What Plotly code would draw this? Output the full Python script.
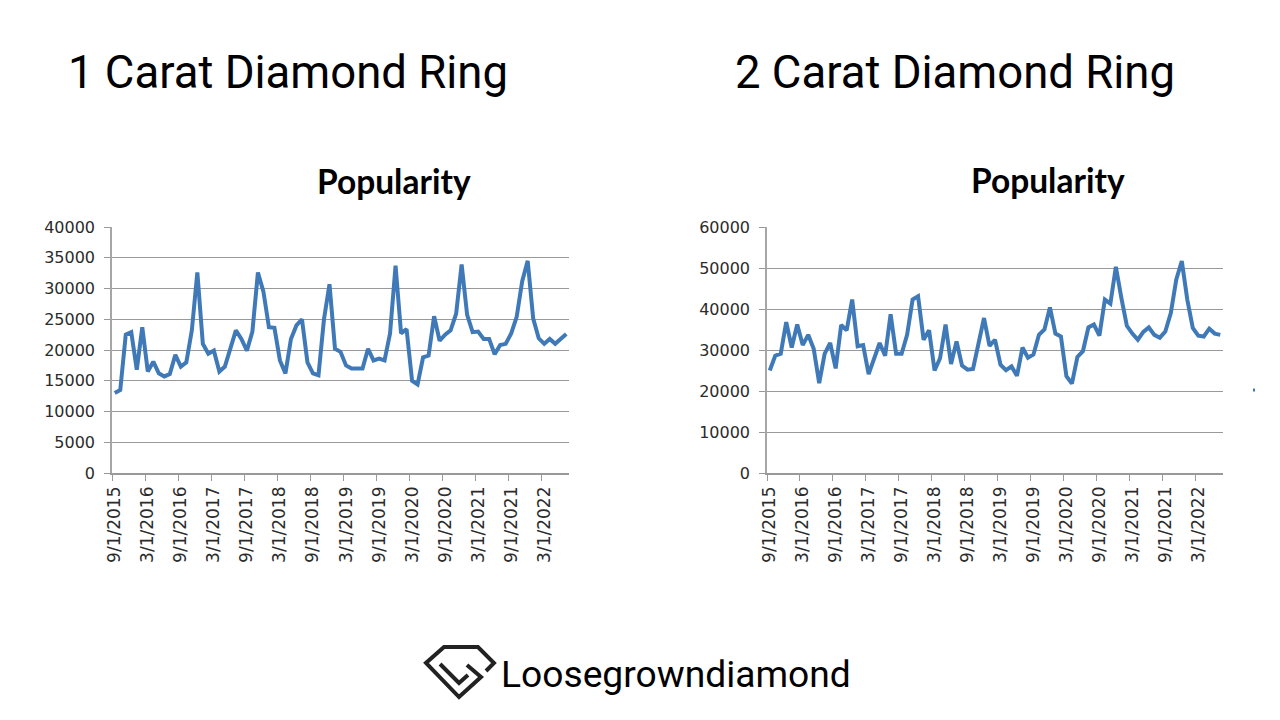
import pandas as pd
import plotly.graph_objects as go

months = [f"{d.month}/1/{d.year}" for d in pd.date_range("2015-09-01", periods=83, freq="MS")]

ring_1ct = [
    13000, 13500, 22500, 22900, 16800, 23700, 16500, 18100, 16200, 15700,
    16100, 19200, 17300, 18000, 23200, 32600, 21000, 19400, 19900, 16500,
    17300, 20000, 23200, 21800, 19900, 23000, 32600, 29500, 23700, 23600,
    18300, 16200, 21800, 24000, 25000, 18000, 16200, 15900, 25000, 30700,
    20200, 19700, 17500, 17000, 17000, 17000, 20200, 18300, 18600, 18300,
    22700, 33700, 22700, 23400, 15000, 14400, 18800, 19100, 25500, 21500,
    22500, 23200, 25900, 33900, 25700, 22900, 23000, 21800, 21800, 19300,
    20800, 21000, 22700, 25400, 31200, 34500, 25100, 21900, 21000, 21800,
    21000, 21700, 22600,
]
ring_2ct = [
    25000, 28600, 29100, 36800, 30600, 36200, 31200, 33700, 30300, 21900,
    29100, 31700, 25500, 36100, 34800, 42300, 30900, 31200, 24100, 28000,
    31700, 28600, 38700, 29100, 29100, 33700, 42300, 43100, 32500, 34800,
    25000, 28000, 36200, 26600, 32100, 26200, 25200, 25400, 31300, 37800,
    31000, 32500, 26400, 25100, 26000, 23700, 30600, 28100, 28900, 33700,
    35000, 40400, 34000, 33300, 23600, 21800, 28300, 29700, 35500, 36200,
    33500, 42300, 41300, 50300, 42700, 35900, 34000, 32500, 34400, 35500,
    33700, 33000, 34500, 39000, 47200, 51700, 42300, 35400, 33500, 33300,
    35200, 34000, 33700,
]

W, H = 1280, 720
LINE = "#4079b8"
GRID = "#999999"


def px(x):
    return x / W


def py(y):
    return 1 - y / H


def poly(points, color="#222222", width=4):
    path = "M " + " L ".join(f"{px(x):.4f},{py(y):.4f}" for x, y in points)
    return dict(type="path", xref="paper", yref="paper", path=path,
                line=dict(color=color, width=width))


fig = go.Figure()
fig.add_trace(go.Scatter(x=months, y=ring_1ct, mode="lines", xaxis="x", yaxis="y",
                         line=dict(color=LINE, width=4)))
fig.add_trace(go.Scatter(x=months, y=ring_2ct, mode="lines", xaxis="x2", yaxis="y2",
                         line=dict(color=LINE, width=4)))

x_common = dict(type="category", categoryorder="array", categoryarray=months,
                range=[-0.5, len(months) - 0.5],
                tickmode="linear", tick0=0, dtick=6, tickson="boundaries",
                ticks="outside", ticklen=6, tickcolor=GRID, tickwidth=1,
                tickangle=-90, showgrid=False, ticklabelstandoff=5,
                tickfont=dict(family="DejaVu Sans", size=17, color="#2b2b2b"),
                showline=True, linecolor=GRID, linewidth=1.5, zeroline=False)
y_common = dict(ticks="outside", ticklen=6, tickcolor=GRID, tickwidth=1,
                tickfont=dict(family="DejaVu Sans", size=16, color="#2b2b2b"),
                gridcolor=GRID, gridwidth=1, ticklabelstandoff=6,
                showline=True, linecolor="#a6a6a6", linewidth=1.5,
                zeroline=False, tickformat="d")

titles = [
    dict(text="1 Carat Diamond Ring", x=px(66), y=py(73), size=45.5, family="Roboto", weight=400),
    dict(text="2 Carat Diamond Ring", x=px(733), y=py(73), size=45.5, family="Roboto", weight=400),
    dict(text="Popularity", x=px(315), y=py(181), size=33.5, family="Lato", weight=700),
    dict(text="Popularity", x=px(969), y=py(180), size=33.5, family="Lato", weight=700),
    dict(text="Loosegrowndiamond", x=px(499), y=py(674), size=37.2, family="Roboto", weight=400),
]
annotations = [
    dict(text=t["text"], x=t["x"], y=t["y"], xref="paper", yref="paper",
         xanchor="left", yanchor="middle", showarrow=False,
         font=dict(family=t["family"], size=t["size"], color="#000000", weight=t["weight"]))
    for t in titles
]

# logo outline and the stray legend dot right of the second chart
shapes = [
    poly([(486, 671), (494, 663), (478, 647), (444, 647), (426, 663), (459, 697), (481, 677), (467, 665)]),
    poly([(440, 664), (459, 683), (468, 675)]),
    poly([(1253, 390), (1255, 390)], color=LINE, width=3),
]

fig.update_layout(
    width=W, height=H, margin=dict(l=0, r=0, t=0, b=0, autoexpand=False),
    paper_bgcolor="white", plot_bgcolor="white", showlegend=False,
    xaxis=dict(domain=[px(112), px(569)], anchor="y", **x_common),
    yaxis=dict(domain=[py(473), py(227)], anchor="x", range=[0, 40000], dtick=5000, **y_common),
    xaxis2=dict(domain=[px(767), px(1223)], anchor="y2", **x_common),
    yaxis2=dict(domain=[py(473), py(227)], anchor="x2", range=[0, 60000], dtick=10000, **y_common),
    annotations=annotations,
    shapes=shapes,
)

fig.write_html("out.html", config=dict(displayModeBar=False),
               post_script="document.body.style.margin='0';")
